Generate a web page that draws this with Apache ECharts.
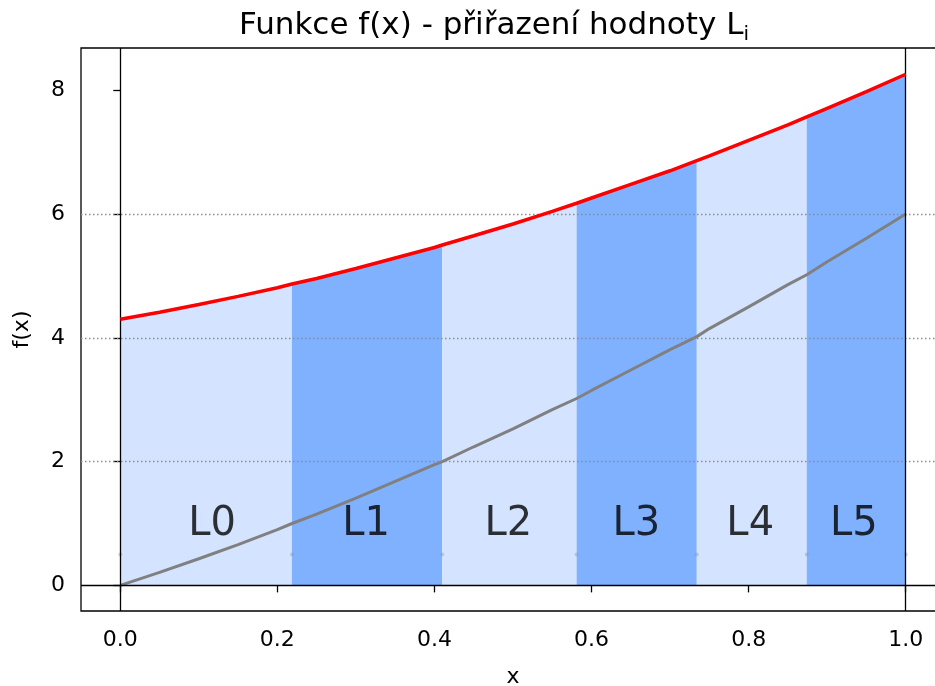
<!DOCTYPE html>
<html>
<head>
<meta charset="utf-8">
<script src="https://cdn.jsdelivr.net/npm/echarts@6/dist/echarts.min.js"></script>
<style>
html,body{margin:0;padding:0;background:#fff;}
#chart{width:935px;height:686px;}
</style>
</head>
<body>
<div id="chart"></div>
<script>
// ---- data ----
const xs = [0, 0.05, 0.1, 0.15, 0.2, 0.2186, 0.25, 0.3, 0.35, 0.4, 0.41, 0.45, 0.5, 0.55,
            0.581, 0.6, 0.65, 0.7, 0.734, 0.75, 0.8, 0.85, 0.874, 0.9, 0.95, 1.0];
const redVals = [4.30, 4.415, 4.54, 4.67, 4.81, 4.87, 4.96, 5.12, 5.29, 5.46, 5.50, 5.65, 5.84, 6.045,
                 6.175, 6.26, 6.48, 6.70, 6.865, 6.94, 7.19, 7.44, 7.57, 7.71, 7.98, 8.26];
const grayVals = [0, 0.21, 0.43, 0.66, 0.90, 1.0, 1.15, 1.41, 1.68, 1.95, 2.0, 2.24, 2.53, 2.84,
                  3.02, 3.15, 3.48, 3.81, 4.02, 4.15, 4.50, 4.86, 5.02, 5.23, 5.61, 6.0];
const bandEdges = [0, 0.2186, 0.41, 0.581, 0.734, 0.874, 1.0];
const bandLabels = ['L0', 'L1', 'L2', 'L3', 'L4', 'L5'];
const labelXs = [0.117, 0.313, 0.494, 0.657, 0.802, 0.934];
const labelY = 0.98;
const markerY = 0.5;
const xTicks = [0, 0.2, 0.4, 0.6, 0.8, 1.0];
const yTicks = [0, 2, 4, 6, 8];
const gridYs = [2, 4, 6];
const titleText = 'Funkce f(x) - přiřazení hodnoty L';
const titleSub = 'i';

const FONT = '"DejaVu Sans", sans-serif';
const lightBlue = '#D4E3FF';
const darkBlue = '#80B1FF';

const series = [];

// bands under the red curve
for (let i = 0; i < bandLabels.length; i++) {
  const a = bandEdges[i], b = bandEdges[i + 1];
  const pts = [];
  for (let k = 0; k < xs.length; k++) {
    if (xs[k] >= a - 1e-9 && xs[k] <= b + 1e-9) pts.push([xs[k], redVals[k]]);
  }
  series.push({
    type: 'line',
    data: pts,
    symbol: 'none',
    lineStyle: { width: 0, opacity: 0 },
    areaStyle: { color: i % 2 === 0 ? lightBlue : darkBlue, opacity: 1, origin: 0 },
    z: 1,
    silent: true
  });
}

// reference lines: grid dotted + black axes lines
series.push({
  type: 'line',
  data: [],
  z: 3,
  markLine: {
    silent: true,
    symbol: ['none', 'none'],
    label: { show: false },
    animation: false,
    data: [
      ...gridYs.map(v => ({ yAxis: v, lineStyle: { color: '#8c8c8c', type: [1.5, 2.5], width: 1.3 } })),
      { yAxis: 0, lineStyle: { color: '#000', type: 'solid', width: 1.3 } },
      { xAxis: 0, lineStyle: { color: '#000', type: 'solid', width: 1.3 } },
      { xAxis: 1, lineStyle: { color: '#000', type: 'solid', width: 1.3 } }
    ]
  }
});

// gray curve
series.push({
  type: 'line',
  data: xs.map((x, k) => [x, grayVals[k]]),
  smooth: false,
  symbol: 'none',
  lineStyle: { color: '#808080', width: 3 },
  z: 4
});

// red curve
series.push({
  type: 'line',
  data: xs.map((x, k) => [x, redVals[k]]),
  smooth: false,
  symbol: 'none',
  lineStyle: { color: '#FF0000', width: 3.5 },
  z: 5
});

// faint markers at boundaries
series.push({
  type: 'scatter',
  data: bandEdges.map(x => [x, markerY]),
  symbolSize: 4,
  itemStyle: { color: 'rgba(140,140,140,0.45)' },
  z: 4
});

// band labels
series.push({
  type: 'scatter',
  data: bandLabels.map((l, i) => ({ value: [labelXs[i], labelY], name: l })),
  symbolSize: 0,
  label: {
    show: true,
    position: 'inside',
    formatter: '{b}',
    color: '#000',
    fontSize: 40,
    fontFamily: FONT
  },
  z: 6
});

const chart = echarts.init(document.getElementById('chart'), null, { renderer: 'canvas' });
chart.setOption({
  animation: false,
  backgroundColor: '#fff',
  title: {
    text: '{a|' + titleText + '}{s|' + titleSub + '}',
    left: 489,
    textAlign: 'center',
    top: 2,
    textStyle: {
      rich: {
        a: { fontSize: 31, fontFamily: FONT, color: '#000', fontWeight: 'normal', lineHeight: 38 },
        s: { fontSize: 20, fontFamily: FONT, color: '#000', fontWeight: 'normal', verticalAlign: 'bottom', padding: [16, 0, 0, 0], lineHeight: 38 }
      }
    }
  },
  grid: {
    left: 81, top: 48, width: 864, height: 563,
    outerBoundsMode: 'none',
    containLabel: false,
    show: true, borderColor: '#000', borderWidth: 1.3, backgroundColor: 'transparent'
  },
  xAxis: {
    type: 'value',
    min: -0.05, max: 1.05,
    name: 'x',
    nameLocation: 'middle',
    nameGap: 55,
    nameTextStyle: { fontSize: 22, fontFamily: FONT, color: '#000' },
    axisLine: { show: false },
    splitLine: { show: false },
    axisTick: { show: true, inside: false, length: 7, customValues: xTicks, lineStyle: { color: '#000', width: 1.3 } },
    axisLabel: {
      customValues: xTicks,
      formatter: v => v.toFixed(1),
      fontSize: 22, fontFamily: FONT, color: '#000', margin: 18
    }
  },
  yAxis: {
    type: 'value',
    min: -0.414, max: 8.684,
    name: 'f(x)',
    nameLocation: 'middle',
    nameGap: 48,
    nameRotate: 90,
    nameTextStyle: { fontSize: 22, fontFamily: FONT, color: '#000' },
    axisLine: { show: false },
    splitLine: { show: false },
    axisTick: { show: true, inside: false, length: 7, customValues: yTicks, lineStyle: { color: '#000', width: 1.3 } },
    axisLabel: {
      customValues: yTicks,
      formatter: v => String(v),
      fontSize: 22, fontFamily: FONT, color: '#000', margin: 16
    }
  },
  series: series
});
</script>
</body>
</html>
